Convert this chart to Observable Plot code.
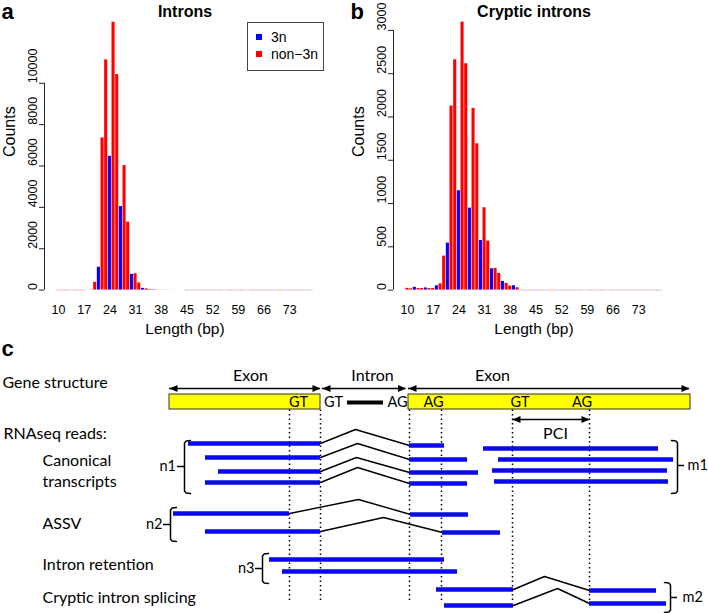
<!DOCTYPE html>
<html>
<head>
<meta charset="utf-8">
<script src="https://cdn.jsdelivr.net/npm/d3@7"></script>
<script src="https://cdn.jsdelivr.net/npm/@observablehq/plot@0.6"></script>
<style>
  html, body { margin: 0; padding: 0; background: #fff; }
  #fig { position: relative; width: 708px; height: 613px; overflow: hidden; background: #fff; }
  #fig svg { position: absolute; background: transparent !important; max-width: none !important; }
  .legend { position: absolute; left: 247px; top: 22px; width: 75px; height: 47px; border: 1px solid #444;
            font: 14px 'Liberation Sans', Arial, sans-serif; color: #000; background: #fff; }
  .legend .sw { position: absolute; left: 8px; width: 6px; height: 6px; }
  .legend .lab { position: absolute; left: 23px; height: 16px; line-height: 16px; }
</style>
</head>
<body>
<div id="fig"></div>
<script>
// ---------------- Panels a & b: histogram data ----------------
const lengths = d3.range(10, 80); // intron length categories, 10..79 bp
const intronCounts = [
  0, 0, 0, 0, 0, 0, 0, 0,                       // 10-17
  3, 10, 380, 1105, 7360, 11130, 6470, 12950,   // 18-25
  10420, 4040, 6020, 3285, 760, 790, 345, 85,   // 26-33
  60, 25, 15, 10, 6, 5, 3, 2, 2, 1, 1,          // 34-44
  0, 0, 0, 0, 0, 0, 0, 0, 0, 0, 0, 0, 0, 0, 0, 0, 0, 0,  // 45-62
  0, 0, 0, 0, 0, 0, 0, 0, 0, 0, 0, 0, 0, 0, 0, 0, 0      // 63-79
];
const crypticCounts = [
  20, 15, 32, 18, 18, 25, 18, 18, 50, 72,       // 10-19
  393, 543, 2126, 2661, 1148, 3096, 2615, 947, 2099, 1690, // 20-29
  574, 951, 566, 246, 250, 193, 100, 77, 46, 50, // 30-39
  27,                                            // 40
  0, 0, 0, 0, 0, 0, 0, 0, 0, 0, 0, 0, 0, 0, 0, 0, 0, 0, 0, 0, // 41-60
  0, 0, 0, 0, 0, 0, 0, 0, 0, 0, 0, 0, 0, 0, 0, 0, 0, 0, 0     // 61-79
];
const xTickLabels = [10, 17, 24, 31, 38, 45, 52, 59, 66, 73];
const intronYTicks = [0, 2000, 4000, 6000, 8000, 10000];
const crypticYTicks = [0, 500, 1000, 1500, 2000, 2500, 3000];
const classNames = ["3n", "non\u22123n"];
const classColors = ["#0000FF", "#FF0000"];

// ---------------- Panel c: schematic data (diagram units) ----------------
const regionLabels = [
  {text: "Exon", x: 250, y: 375}, {text: "Intron", x: 372, y: 375}, {text: "Exon", x: 492, y: 375}
];
const regionArrows = [
  {x1: 169, x2: 320, y: 388}, {x1: 322, x2: 405.5, y: 388}, {x1: 408, x2: 689, y: 388}, {x1: 512, x2: 589, y: 419}
];
const exons = [{x1: 169, x2: 320}, {x1: 408, x2: 690}];
const siteLabels = [
  {text: "GT", x: 298}, {text: "GT", x: 333}, {text: "AG", x: 397},
  {text: "AG", x: 433}, {text: "GT", x: 519.5}, {text: "AG", x: 581.5}
];
const intronBody = [{x1: 347, x2: 383, y: 402}];
const spliceSites = [289, 320, 409, 441, 512, 589];
const pciLabel = [{text: "PCI", x: 555, y: 433}];
const rowLabels = [
  {text: "Gene structure", x: 2, y: 382},
  {text: "RNAseq reads:", x: 3, y: 433},
  {text: "Canonical", x: 42, y: 460.5},
  {text: "transcripts", x: 42, y: 481},
  {text: "ASSV", x: 42, y: 523},
  {text: "Intron retention", x: 42, y: 564},
  {text: "Cryptic intron splicing", x: 42, y: 597.5}
];
const reads = [
  [188, 320, 443], [205, 320, 457], [218, 320, 471], [205, 320, 482],
  [409, 444, 445], [409, 467, 459], [409, 478, 472], [409, 467, 483],
  [483, 658, 448], [498, 673, 459], [492, 667, 470], [494, 668, 481],
  [173, 289, 513], [205, 320, 531], [410, 468, 514], [442, 500, 532],
  [269, 444, 559], [282, 457, 571],
  [436, 513, 589], [444, 513, 605], [589, 656, 590], [589, 666, 603]
];
const junctions = [
  {id: "c1", pts: [[320, 443], [355, 429], [409, 445]]},
  {id: "c2", pts: [[320, 457], [357, 443], [409, 459]]},
  {id: "c3", pts: [[320, 471], [356, 457], [409, 472]]},
  {id: "c4", pts: [[320, 482], [357, 467], [409, 483]]},
  {id: "a1", pts: [[289, 513], [358, 499], [410, 514]]},
  {id: "a2", pts: [[320, 531], [383, 517], [442, 532]]},
  {id: "p1", pts: [[513, 589], [544, 576], [589, 590]]},
  {id: "p2", pts: [[513, 605], [557, 588], [589, 603]]}
];
const braces = [
  {id: "n1", x: 184, top: 440, bottom: 493, mid: 466, dir: -1, labelX: 175.5},
  {id: "n2", x: 170, top: 507, bottom: 541, mid: 524, dir: -1, labelX: 162},
  {id: "n3", x: 262, top: 553, bottom: 583, mid: 568, dir: -1, labelX: 254},
  {id: "m1", x: 677, top: 440, bottom: 493, mid: 465, dir: 1, labelX: 687},
  {id: "m2", x: 670, top: 582, bottom: 612, mid: 597, dir: 1, labelX: 682}
];

const fig = document.getElementById("fig");
const rFont = "'Liberation Sans', Arial, Helvetica, sans-serif";

function histogram({counts, yTicks, yMax, yTopPx, title, letter, left}) {
  const rows = lengths.map((L, i) => ({L, count: counts[i], c: L % 3 === 0 ? 0 : 1}));
  const x0 = 6.185;
  const svg = Plot.plot({
    width: 350, height: 338,
    marginLeft: 44, marginRight: 25, marginTop: 22, marginBottom: 47,
    style: {fontFamily: rFont, background: "transparent", color: "black"},
    x: {domain: [x0, 82.75], range: [44, 325], axis: null},
    y: {domain: [0, yMax], range: [289.6, yTopPx], axis: null},
    marks: [
      Plot.ruleY(rows.filter(d => d.count === 0), {
        y: 0, x1: d => d.L - 0.45, x2: d => d.L + 0.45,
        stroke: d => classColors[d.c], strokeOpacity: 0.3, strokeWidth: 1
      }),
      Plot.rectY(rows.filter(d => d.count > 0), {
        x1: d => d.L - 0.42, x2: d => d.L + 0.42, y: "count",
        fill: d => classColors[d.c]
      }),
      Plot.ruleX([x0], {y1: 0, y2: yTicks[yTicks.length - 1], stroke: "#222", strokeWidth: 1}),
      Plot.axisY({ticks: yTicks, tickSize: 5, tickFormat: () => "", label: null, anchor: "left", stroke: "#222"}),
      Plot.text(yTicks, {y: d => d, text: d => String(d), frameAnchor: "left", lineAnchor: "middle", rotate: -90, dx: -12, fontSize: 12.5}),
      Plot.text(xTickLabels, {x: d => d, y: 0, dy: 19.5, text: d => String(d), lineAnchor: "middle", fontSize: 12.5}),
      Plot.text([title], {frameAnchor: "top", lineAnchor: "middle", dy: -10.4, fontWeight: "bold", fontSize: 16}),
      Plot.text([letter], {frameAnchor: "top-left", lineAnchor: "middle", dx: -43, dy: -11, textAnchor: "start", fontWeight: "bold", fontSize: 22}),
      Plot.text(["Counts"], {frameAnchor: "left", lineAnchor: "middle", dx: -35, rotate: -90, fontSize: 16}),
      Plot.text(["Length (bp)"], {frameAnchor: "bottom", lineAnchor: "middle", dy: 37.5, fontSize: 15.5})
    ]
  });
  svg.style.left = left + "px";
  svg.style.top = "0px";
  fig.appendChild(svg);
}

histogram({counts: intronCounts, yTicks: intronYTicks, yMax: 13200, yTopPx: 16.6, title: "Introns", letter: "a", left: 0});
histogram({counts: crypticCounts, yTicks: crypticYTicks, yMax: 3200, yTopPx: 12.6, title: "Cryptic introns", letter: "b", left: 349});

// legend for panel a
const legend = document.createElement("div");
legend.className = "legend";
classNames.forEach((name, i) => {
  const sw = document.createElement("div");
  sw.className = "sw";
  sw.style.background = classColors[i];
  sw.style.top = (11 + i * 16.5) + "px";
  const lab = document.createElement("div");
  lab.className = "lab";
  lab.style.top = (6 + i * 16.5) + "px";
  lab.textContent = name;
  legend.appendChild(sw);
  legend.appendChild(lab);
});
fig.appendChild(legend);

// ---------------- Panel c ----------------
const headRight = {draw(ctx) { ctx.moveTo(0, 0); ctx.lineTo(-8, -3.5); ctx.lineTo(-8, 3.5); ctx.closePath(); }};
const headLeft = {draw(ctx) { ctx.moveTo(0, 0); ctx.lineTo(8, -3.5); ctx.lineTo(8, 3.5); ctx.closePath(); }};

const readRows = reads.map(([x1, x2, y]) => ({x1, x2, y}));
const junctionPts = junctions.flatMap(j => j.pts.map(([x, y]) => ({id: j.id, x, y})));
const bracePts = braces.flatMap(b => {
  const h = -b.dir; // hooks open toward the reads
  return [
    {id: b.id, x: b.x + h * 6, y: b.top},
    {id: b.id, x: b.x + h * 1.5, y: b.top + 0.6},
    {id: b.id, x: b.x, y: b.top + 2.5},
    {id: b.id, x: b.x, y: b.bottom - 2.5},
    {id: b.id, x: b.x + h * 1.5, y: b.bottom - 0.6},
    {id: b.id, x: b.x + h * 6, y: b.bottom}
  ];
});
const braceTicks = braces.map(b => ({x1: b.x, x2: b.x + b.dir * 7, y: b.mid}));
const diagFont = "Lato, 'Open Sans', sans-serif";

const svgC = Plot.plot({
  width: 708, height: 283, margin: 0,
  style: {fontFamily: diagFont, background: "transparent", color: "black"},
  x: {domain: [0, 708], range: [0, 708], axis: null},
  y: {domain: [330, 613], range: [0, 283], axis: null},
  marks: [
    Plot.text(["c"], {x: 1, y: 348, textAnchor: "start", lineAnchor: "middle", fontWeight: "bold", fontSize: 22, fontFamily: rFont}),
    Plot.text(rowLabels, {x: "x", y: "y", text: "text", textAnchor: "start", lineAnchor: "middle", fontSize: 16}),
    Plot.text(regionLabels, {x: "x", y: "y", text: "text", lineAnchor: "middle", fontSize: 16}),
    Plot.ruleY(regionArrows, {x1: "x1", x2: "x2", y: "y", stroke: "black", strokeWidth: 1.5}),
    Plot.dot(regionArrows, {x: "x1", y: "y", symbol: headLeft, fill: "black", stroke: "none"}),
    Plot.dot(regionArrows, {x: "x2", y: "y", symbol: headRight, fill: "black", stroke: "none"}),
    Plot.rect(exons, {x1: "x1", x2: "x2", y1: 394, y2: 409, fill: "#FFFF00", stroke: "#333", strokeWidth: 1}),
    Plot.text(siteLabels, {x: "x", y: 402, text: "text", lineAnchor: "middle", fontSize: 14.5}),
    Plot.ruleY(intronBody, {x1: "x1", x2: "x2", y: "y", stroke: "black", strokeWidth: 4}),
    Plot.ruleX(spliceSites, {x: d => d, y1: 409.5, y2: 600, stroke: "black", strokeWidth: 1.5, strokeDasharray: "1.5 3"}),
    Plot.text(pciLabel, {x: "x", y: "y", text: "text", lineAnchor: "middle", fontSize: 16}),
    Plot.line(junctionPts, {x: "x", y: "y", z: "id", stroke: "black", strokeWidth: 1.4}),
    Plot.ruleY(readRows, {x1: "x1", x2: "x2", y: "y", stroke: "#0A0AE8", strokeWidth: 4.5}),
    Plot.line(bracePts, {x: "x", y: "y", z: "id", stroke: "black", strokeWidth: 1.5}),
    Plot.ruleY(braceTicks, {x1: "x1", x2: "x2", y: "y", stroke: "black", strokeWidth: 1.5}),
    Plot.text(braces.filter(b => b.dir < 0), {x: "labelX", y: "mid", text: "id", textAnchor: "end", lineAnchor: "middle", fontSize: 14.5}),
    Plot.text(braces.filter(b => b.dir > 0), {x: "labelX", y: "mid", text: "id", textAnchor: "start", lineAnchor: "middle", fontSize: 14.5})
  ]
});
svgC.style.left = "0px";
svgC.style.top = "330px";
fig.appendChild(svgC);
</script>
</body>
</html>
